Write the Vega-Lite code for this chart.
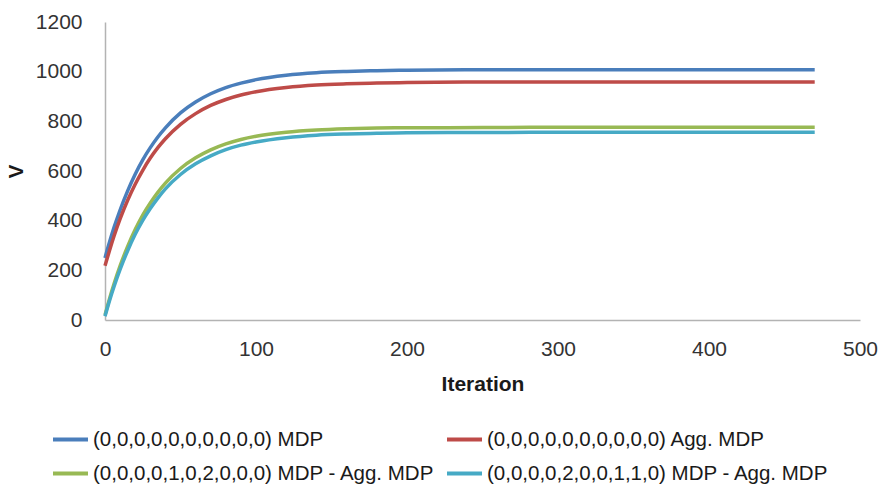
{
  "$schema": "https://vega.github.io/schema/vega-lite/v6.json",
  "width": 755,
  "height": 298,
  "autosize": {"type": "none"},
  "padding": {"left": 105, "top": 22, "right": 27, "bottom": 176},
  "background": "white",
  "config": {
    "font": "Liberation Sans",
    "view": {"stroke": null}
  },
  "data": {
    "values": [
      {"it": 0, "a": 250, "b": 218, "c": 20, "d": 15},
      {"it": 3, "a": 314, "b": 280, "c": 86, "d": 78},
      {"it": 6, "a": 373, "b": 338, "c": 146, "d": 135},
      {"it": 10, "a": 443, "b": 407, "c": 218, "d": 204},
      {"it": 15, "a": 520, "b": 482, "c": 296, "d": 279},
      {"it": 20, "a": 587, "b": 547, "c": 364, "d": 345},
      {"it": 25, "a": 645, "b": 603, "c": 422, "d": 401},
      {"it": 30, "a": 694, "b": 652, "c": 471, "d": 449},
      {"it": 35, "a": 737, "b": 694, "c": 514, "d": 491},
      {"it": 40, "a": 774, "b": 730, "c": 551, "d": 528},
      {"it": 50, "a": 834, "b": 788, "c": 610, "d": 586},
      {"it": 60, "a": 878, "b": 831, "c": 653, "d": 629},
      {"it": 70, "a": 911, "b": 864, "c": 685, "d": 661},
      {"it": 80, "a": 936, "b": 888, "c": 709, "d": 686},
      {"it": 90, "a": 954, "b": 906, "c": 727, "d": 704},
      {"it": 100, "a": 968, "b": 919, "c": 740, "d": 717},
      {"it": 120, "a": 986, "b": 936, "c": 756, "d": 734},
      {"it": 140, "a": 996, "b": 946, "c": 765, "d": 744},
      {"it": 160, "a": 1001, "b": 951, "c": 770, "d": 749},
      {"it": 180, "a": 1004, "b": 954, "c": 773, "d": 752},
      {"it": 200, "a": 1006, "b": 956, "c": 774, "d": 754},
      {"it": 250, "a": 1008, "b": 958, "c": 775, "d": 755},
      {"it": 300, "a": 1008, "b": 958, "c": 776, "d": 756},
      {"it": 400, "a": 1008, "b": 958, "c": 776, "d": 756},
      {"it": 470, "a": 1008, "b": 958, "c": 776, "d": 756}
    ]
  },
  "transform": [{"fold": ["a", "b", "c", "d"], "as": ["s", "v"]}],
  "mark": {"type": "line", "interpolate": "monotone", "strokeWidth": 3.5},
  "encoding": {
    "x": {
      "field": "it",
      "type": "quantitative",
      "scale": {"domain": [0, 500], "nice": false},
      "axis": {
        "title": "Iteration",
        "values": [0, 100, 200, 300, 400, 500],
        "format": "d",
        "grid": false,
        "ticks": false,
        "labelFlush": false,
        "labelOverlap": false,
        "labelPadding": 18,
        "labelFontSize": 21,
        "labelColor": "#333333",
        "domainColor": "#B3B3B3",
        "domainWidth": 1.5,
        "titleFontSize": 21,
        "titleFontWeight": "bold",
        "titleColor": "#1a1a1a",
        "titlePadding": 14
      }
    },
    "y": {
      "field": "v",
      "type": "quantitative",
      "scale": {"domain": [0, 1200], "nice": false},
      "axis": {
        "title": "V",
        "values": [0, 200, 400, 600, 800, 1000, 1200],
        "format": "d",
        "grid": false,
        "ticks": false,
        "labelPadding": 23,
        "labelFontSize": 21,
        "labelColor": "#333333",
        "domainColor": "#B3B3B3",
        "domainWidth": 1.5,
        "titleFontSize": 21,
        "titleFontWeight": "bold",
        "titleColor": "#1a1a1a",
        "titlePadding": 9
      }
    },
    "color": {
      "field": "s",
      "type": "nominal",
      "scale": {
        "domain": ["a", "b", "c", "d"],
        "range": ["#4A7EBB", "#BE4B48", "#98B954", "#46AAC5"]
      },
      "legend": {
        "title": null,
        "orient": "none",
        "legendX": -54,
        "legendY": 398,
        "columns": 2,
        "direction": "horizontal",
        "symbolType": "stroke",
        "symbolSize": 1225,
        "symbolStrokeWidth": 4,
        "labelFontSize": 20.5,
        "labelColor": "#1a1a1a",
        "labelOffset": 3,
        "labelLimit": 500,
        "rowPadding": 4,
        "columnPadding": 4,
        "labelExpr": "{'a': '(0,0,0,0,0,0,0,0,0,0) MDP', 'b': '(0,0,0,0,0,0,0,0,0,0) Agg. MDP', 'c': '(0,0,0,0,1,0,2,0,0,0) MDP - Agg. MDP', 'd': '(0,0,0,0,2,0,0,1,1,0) MDP - Agg. MDP'}[datum.label]"
      }
    }
  }
}
